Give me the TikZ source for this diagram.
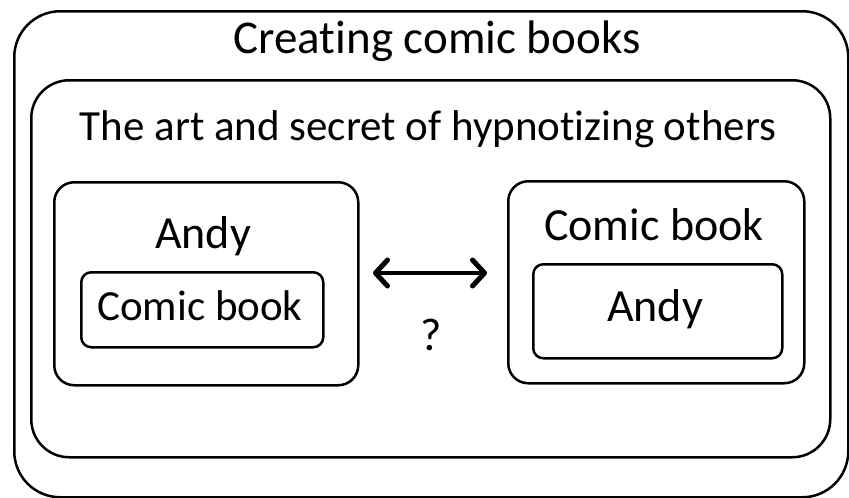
\documentclass[tikz,border=0pt]{standalone}
\usepackage{fontspec}
\setmainfont{Carlito}[Ligatures=NoCommon]
\usetikzlibrary{arrows.meta}
\usetikzlibrary{positioning}

\begin{document}
\begin{tikzpicture}[x=1pt,y=-1pt,>={Straight Barb[length=12pt,width=26pt,line width=5pt,round]}]
        \tikzset{rblock/.style={draw, line width=2.5pt, rounded corners=#1, inner sep=0pt, anchor=north west},
        txt/.style={font=\fontsize{#1}{52}\selectfont, inner sep=0pt, anchor=base},
        txt/.default=46
        }
        \useasboundingbox (0,0) rectangle (849,498);
        %% nested boxes
        \node [rblock=46pt, minimum width=834pt, minimum height=486pt] (books) at (13,10) {};
        \node [rblock=38pt, minimum width=799pt, minimum height=377pt] (art) at (30,79) {};
        \node [rblock=20pt, minimum width=304pt, minimum height=203pt] (andy) at (53,181) {};
        \node [rblock=10pt, minimum width=242pt, minimum height=75pt] (andycomic) at (80,271) {};
        \node [rblock=20pt, minimum width=296pt, minimum height=202pt] (comic) at (507,180) {};
        \node [rblock=10pt, minimum width=249pt, minimum height=94pt] (comicandy) at (532,263) {};
        %% labels
        \node [txt=47] (bookstext) at (437,53) {Creating comic books};
        \node [txt=43] (arttext) at (428,140) {The art and secret of hypnotizing others};
        \node [txt] (andytext) at (203,248) {Andy};
        \node [txt=43] (andycomictext) at (200,320) {Comic book};
        \node [txt] (comictext) at (654,240) {Comic book};
        \node [txt] (comicandytext) at (655,321) {Andy};
        \node [txt] (ask) at (431,350) {?};
        \coordinate (left) at (373,273);
        \coordinate (right) at (487,273);

%% paths
        \draw [<->, line width=4.5pt] (left) -- (right);
    \end{tikzpicture}
\end{document}
